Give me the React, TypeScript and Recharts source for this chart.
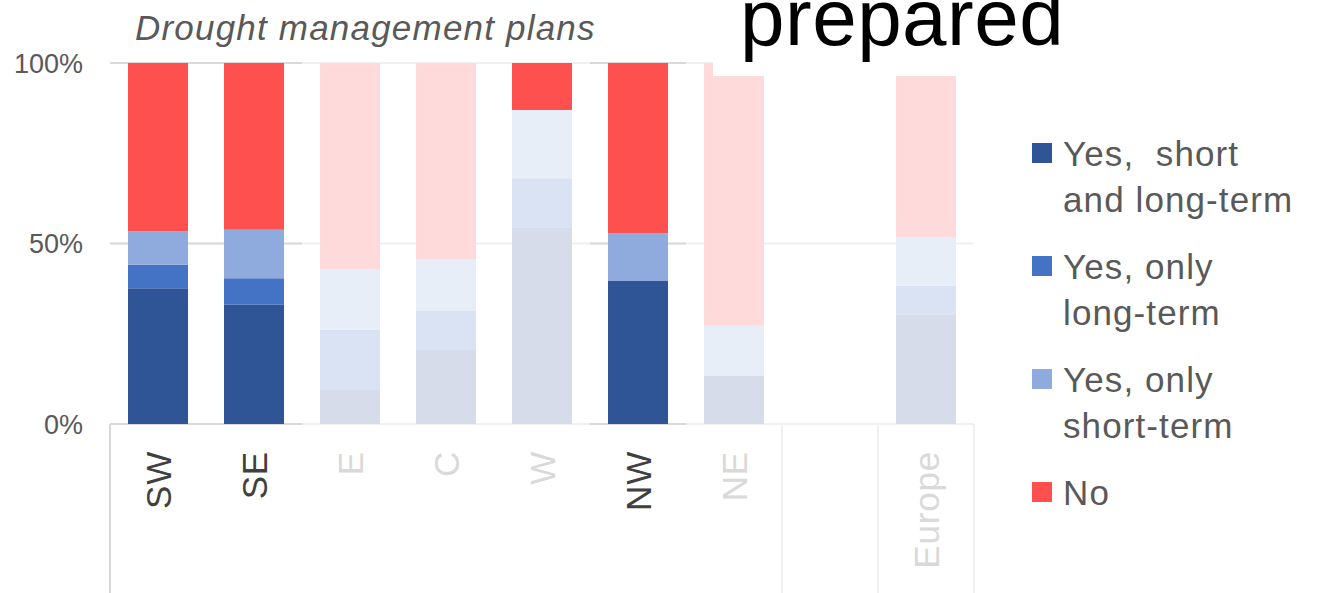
import { Bar, BarChart, CartesianGrid, Cell, Legend, ReferenceArea, XAxis, YAxis } from 'recharts';

const categories = ['SW', 'SE', 'E', 'C', 'W', 'NW', 'NE', '', 'Europe'];
const shortAndLong = [37.6, 33.0, 9.4, 20.5, 54.3, 39.6, 13.3, 0, 30.4];
const onlyLong = [6.5, 7.4, 16.8, 10.8, 13.8, 0, 0, 0, 7.9];
const onlyShort = [9.2, 13.4, 16.6, 14.4, 18.9, 13.2, 13.9, 0, 13.5];
const noPlan = [46.7, 46.2, 57.2, 54.3, 13.0, 47.2, 72.8, 0, 48.2];
const highlighted = ['SW', 'SE', 'NW'];
// single segments that stay in full colour in a faded column
const highlightedCells = ['W:no'];
const yTicks = [0, 50, 100];

const FONT = "'Liberation Sans', Arial, sans-serif";
const TEXT = '#595959';
const HALF_BAND = 48;

const series = [
  { key: 'both', lines: ['Yes,  short', 'and long-term'], color: '#2f5597', faded: '#d6dce9' },
  { key: 'long', lines: ['Yes, only', 'long-term'], color: '#4472c4', faded: '#dae3f3' },
  { key: 'short', lines: ['Yes, only', 'short-term'], color: '#8faadc', faded: '#e7eef8' },
  { key: 'no', lines: ['No'], color: '#ff5050', faded: '#ffdada' },
];

const data = categories.map((name, i) => ({
  name,
  both: shortAndLong[i],
  long: onlyLong[i],
  short: onlyShort[i],
  no: noPlan[i],
}));

// darker grid pieces behind the highlighted regions
const darkSpans = [
  ['SW', 'SE'],
  ['NW', 'NW'],
];

function CategoryTick(props: any) {
  const { x, y, payload } = props;
  const name: string = payload.value;
  const on = highlighted.includes(name);
  const ty = y + 27;
  return (
    <g>
      {name === 'SW' && <line x1={x - HALF_BAND} x2={x - HALF_BAND} y1={y} y2={y + 175} stroke="#d9d9d9" strokeWidth={2} />}
      {(name === '' || name === 'Europe') && (
        <line x1={x - HALF_BAND} x2={x - HALF_BAND} y1={y} y2={y + 175} stroke="#f0f0f0" strokeWidth={2} />
      )}
      {name === 'Europe' && <line x1={x + HALF_BAND} x2={x + HALF_BAND} y1={y} y2={y + 175} stroke="#f0f0f0" strokeWidth={2} />}
      <text
        x={x}
        y={ty}
        transform={`rotate(-90, ${x}, ${ty})`}
        textAnchor="end"
        dominantBaseline="central"
        fontSize={35}
        letterSpacing={0.8}
        fontFamily={FONT}
        fill={on ? '#404040' : '#d9d9d9'}
      >
        {name}
      </text>
    </g>
  );
}

function renderLegend() {
  return (
    <div style={{ fontFamily: FONT, fontSize: 35, letterSpacing: 1.1, color: TEXT, lineHeight: '46px' }}>
      {series.map((s) => (
        <div key={s.key} style={{ position: 'relative', paddingLeft: 31, marginBottom: 21, whiteSpace: 'pre' }}>
          <span style={{ position: 'absolute', left: 0, top: 12, width: 20, height: 20, background: s.color }} />
          {s.lines.map((l) => (
            <div key={l}>{l}</div>
          ))}
        </div>
      ))}
    </div>
  );
}

export default function App() {
  return (
    <div style={{ position: 'absolute', left: 0, top: 0, width: 1321, height: 593, background: '#fff', overflow: 'hidden' }}>
      <div
        style={{
          position: 'absolute',
          left: 135,
          top: 10,
          fontFamily: FONT,
          fontStyle: 'italic',
          fontSize: 35,
          letterSpacing: 1.2,
          lineHeight: '35px',
          color: TEXT,
          whiteSpace: 'nowrap',
        }}
      >
        Drought management plans
      </div>
      <BarChart width={1321} height={593} data={data} margin={{ top: 63, right: 347, bottom: 0, left: 0 }}>
        <CartesianGrid vertical={false} stroke="#f0f0f0" strokeWidth={2} />
        {darkSpans.map(([a, b]) =>
          yTicks.map((t) => (
            <ReferenceArea
              key={`${a}-${t}`}
              x1={a}
              x2={b}
              y1={t - 0.28}
              y2={t + 0.28}
              fill="#d9d9d9"
              fillOpacity={1}
              stroke="none"
              ifOverflow="visible"
            />
          ))
        )}
        <XAxis
          dataKey="name"
          interval={0}
          height={169}
          axisLine={false}
          tickLine={false}
          tickSize={0}
          tickMargin={0}
          tick={(p: any) => <CategoryTick {...p} />}
        />
        <YAxis
          width={110}
          domain={[0, 100]}
          ticks={yTicks}
          tickFormatter={(v) => `${v}%`}
          axisLine={false}
          tickLine={false}
          tickSize={0}
          tickMargin={27}
          tick={{ fontSize: 27, fill: TEXT, fontFamily: FONT }}
        />
        {series.map((s) => (
          <Bar key={s.key} dataKey={s.key} stackId="a" barSize={60} isAnimationActive={false}>
            {data.map((d, i) => (
              <Cell
                key={i}
                fill={highlighted.includes(d.name) || highlightedCells.includes(`${d.name}:${s.key}`) ? s.color : s.faded}
              />
            ))}
          </Bar>
        ))}
        <Legend
          layout="vertical"
          align="center"
          verticalAlign="middle"
          content={renderLegend}
          wrapperStyle={{ left: 1032, top: 131, width: 289 }}
        />
      </BarChart>
      <div style={{ position: 'absolute', left: 713, top: 0, width: 608, height: 76, background: '#fff', zIndex: 2 }}>
        <svg width={608} height={76}>
          <text x={27} y={45} fontSize={80} letterSpacing={0.5} fontFamily={FONT} fill="#000">
            prepared
          </text>
        </svg>
      </div>
    </div>
  );
}
